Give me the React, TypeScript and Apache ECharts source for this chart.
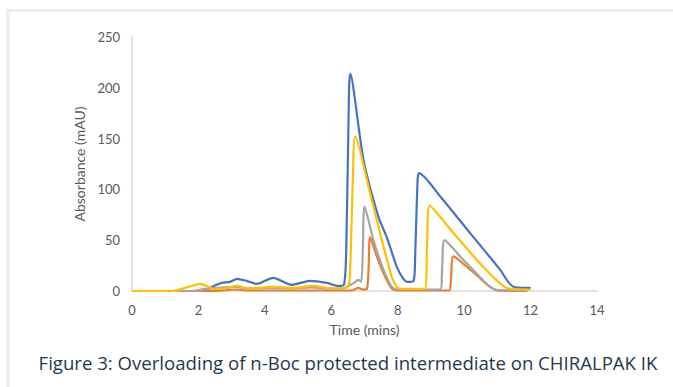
import React, { useEffect, useRef } from "react";
import * as echarts from "echarts";

// Time (mins) / Absorbance (mAU) pairs
const blueSeries: [number, number][] = [
  [0, 0], [2.1, 0], [2.4, 4], [2.7, 8], [2.95, 9], [3.16, 12], [3.45, 10], [3.76, 7],
  [4.25, 13], [4.8, 6], [5.36, 10], [5.87, 8], [6.2, 5], [6.38, 6], [6.45, 40],
  [6.52, 170], [6.57, 214], [6.97, 129], [7.42, 73], [7.67, 53], [7.97, 24], [8.15, 13],
  [8.3, 9], [8.48, 10], [8.53, 40], [8.6, 110], [8.64, 116], [9.28, 93], [10.18, 57],
  [11.08, 21], [11.35, 8], [11.55, 3.5], [12, 3],
];

const orangeSeries: [number, number][] = [
  [0, 0], [2.5, 0], [3.1, 1.5], [3.5, 0.5], [6.6, 0.5], [6.82, 3], [6.95, 1.5], [7.07, 2],
  [7.12, 20], [7.17, 53], [7.37, 34], [7.62, 14], [7.82, 2.5], [8.0, 0.5], [9.55, 0.5],
  [9.6, 10], [9.68, 34], [10.08, 24], [10.48, 12.5], [10.78, 4], [11.0, 0.5], [11.9, 0],
];

const greySeries: [number, number][] = [
  [0, 0], [1.8, 0], [2.2, 2], [3.1, 4], [3.5, 2.5], [4.2, 3], [4.8, 2.5], [5.4, 3.5],
  [6.0, 2], [6.4, 3], [6.66, 7.5], [6.82, 11], [6.9, 9], [6.95, 40], [7.0, 83],
  [7.27, 50], [7.57, 21], [7.82, 4], [8.0, 1.5], [9.28, 1.5], [9.34, 25], [9.41, 50],
  [9.88, 34], [10.38, 17], [10.78, 4], [11.0, 1], [11.9, 0.5],
];

const yellowSeries: [number, number][] = [
  [0, 0], [1.2, 0], [1.8, 5], [2.05, 7], [2.25, 5], [2.45, 2], [2.8, 2.5], [3.16, 5],
  [3.5, 2.5], [4.25, 4], [4.85, 3], [5.45, 5], [6.0, 2.5], [6.45, 3], [6.55, 10],
  [6.65, 110], [6.72, 152], [7.17, 96], [7.57, 44], [7.82, 14], [7.95, 5], [8.07, 2],
  [8.83, 2.5], [8.88, 40], [8.96, 84], [9.68, 57], [10.48, 27], [11.08, 7.5], [11.39, 2],
  [12, 1.5],
];

const xTicks = [0, 2, 4, 6, 8, 10, 12, 14];
const yTicks = [0, 50, 100, 150, 200, 250];

const caption = "Figure 3: Overloading of n-Boc protected intermediate on CHIRALPAK IK";

export default function App() {
  const ref = useRef<HTMLDivElement>(null);
  useEffect(() => {
    if (!ref.current) return;
    const chart = echarts.init(ref.current, null, { renderer: "svg" });
    const mk = (name: string, data: [number, number][], color: string) => ({
      name,
      type: "line",
      data,
      showSymbol: false,
      symbol: "none",
      smooth: 0.25,
      lineStyle: { color, width: 2.2, join: "round" },
      itemStyle: { color },
    });
    chart.setOption({
      animation: false,
      backgroundColor: "#ffffff",
      grid: { left: 132, top: 37, right: 76, bottom: 96, containLabel: false },
      xAxis: {
        type: "value",
        min: xTicks[0],
        max: xTicks[xTicks.length - 1],
        interval: 2,
        name: "Time (mins)",
        nameLocation: "middle",
        nameGap: 31,
        nameTextStyle: { color: "#595959", fontFamily: "Lato", fontSize: 14 },
        axisLine: { show: true, lineStyle: { color: "#d9d9d9", width: 1.5 } },
        axisTick: { show: false },
        splitLine: { show: false },
        axisLabel: { color: "#595959", fontFamily: "Lato", fontSize: 13, margin: 12 },
      },
      yAxis: {
        type: "value",
        min: yTicks[0],
        max: yTicks[yTicks.length - 1],
        interval: 50,
        name: "Absorbance (mAU)",
        nameLocation: "middle",
        nameRotate: 90,
        nameGap: 38,
        nameTextStyle: { color: "#595959", fontFamily: "Lato", fontSize: 14 },
        axisLine: { show: true, lineStyle: { color: "#d9d9d9", width: 1.5 } },
        axisTick: { show: false },
        splitLine: { show: false },
        axisLabel: { color: "#595959", fontFamily: "Lato", fontSize: 13, margin: 12 },
      },
      series: [
        mk("Blue", blueSeries, "#4472C4"),
        mk("Orange", orangeSeries, "#ED7D31"),
        mk("Grey", greySeries, "#A5A5A5"),
        mk("Yellow", yellowSeries, "#FFC000"),
      ],
      graphic: [
        { type: "rect", shape: { x: 6, y: 9, width: 667, height: 3 }, style: { fill: "#eeeeee" }, silent: true },
        { type: "rect", shape: { x: 6, y: 9, width: 4, height: 378 }, style: { fill: "#eeeeee" }, silent: true },
        {
          type: "text",
          x: 348,
          y: 362,
          style: {
            text: caption,
            fill: "#1f3a4f",
            font: "18.6px 'Open Sans'",
            textAlign: "center",
            textVerticalAlign: "middle",
          },
        },
      ],
    });
    return () => chart.dispose();
  }, []);
  return (
    <div
      ref={ref}
      style={{ position: "absolute", left: 0, top: 0, width: 673, height: 387, background: "#fff" }}
    />
  );
}
